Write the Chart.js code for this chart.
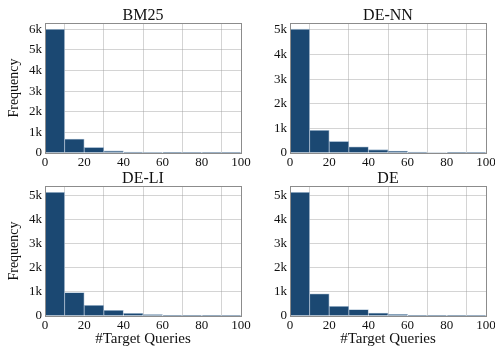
<!DOCTYPE html>
<html>
<head>
<meta charset="utf-8">
<script src="https://cdn.jsdelivr.net/npm/chart.js@4"></script>
<style>
  html, body { margin: 0; padding: 0; background: #fff; overflow: hidden; }
  body { width: 495px; height: 350px; position: relative; }
  .p { position: absolute; }
</style>
</head>
<body>
<div class="p" style="left:0px;top:0px;width:262px;height:175px"><canvas id="c0"></canvas></div>
<div class="p" style="left:247px;top:0px;width:260px;height:175px"><canvas id="c1"></canvas></div>
<div class="p" style="left:0px;top:163px;width:262px;height:187px"><canvas id="c2"></canvas></div>
<div class="p" style="left:247px;top:163px;width:260px;height:187px"><canvas id="c3"></canvas></div>
<script>
// Bin centres (bins of width 10 from 0 to 100)
const binCenters = [5, 15, 25, 35, 45, 55, 65, 75, 85, 95];
const xTicks = [0, 20, 40, 60, 80, 100];
const yTicksTop = [0, 1000, 2000, 3000, 4000, 5000, 6000];
const titles = ["BM25", "DE-NN", "DE-LI", "DE"];
const bm25 = [5990, 680, 270, 100, 50, 20, 12, 4, 2, 1];
const deNN = [5030, 920, 470, 255, 135, 80, 40, 20, 10, 3];
const deLI = [5130, 970, 440, 236, 112, 60, 30, 15, 5, 2];
const de   = [5130, 920, 400, 265, 125, 65, 30, 15, 10, 3];
const yMaxes = [6300, 5280, 5390, 5390];

const series = [bm25, deNN, deLI, de];
const FONT = "'Liberation Serif', 'Times New Roman', serif";

const frame = {
  id: 'frame',
  afterDraw(chart) {
    const a = chart.chartArea, ctx = chart.ctx;
    ctx.save();
    ctx.strokeStyle = '#8c8c8c';
    ctx.lineWidth = 1;
    ctx.strokeRect(Math.round(a.left) + 0.5, Math.round(a.top) + 0.5,
                   Math.round(a.right - a.left), Math.round(a.bottom - a.top));
    // panel title centred over the plot area
    const t = chart.options.plugins.frame.title;
    ctx.fillStyle = '#111';
    ctx.font = '16px ' + FONT;
    ctx.textAlign = 'center';
    ctx.textBaseline = 'alphabetic';
    ctx.fillText(t, (a.left + a.right) / 2, a.top - 3);
    ctx.restore();
  }
};

function make(i) {
  const left = (i % 2 === 0);
  const bottom = (i >= 2);
  const data = series[i];
  const ymax = yMaxes[i];
  new Chart(document.getElementById('c' + i), {
    type: 'bar',
    data: {
      datasets: [{
        data: binCenters.map((x, k) => ({ x: x, y: data[k] })),
        backgroundColor: '#1b4872',
        borderColor: 'rgba(150,175,200,0.8)',
        borderWidth: 0.8,
        barPercentage: 1,
        categoryPercentage: 1
      }]
    },
    options: {
      responsive: true,
      maintainAspectRatio: false,
      animation: false,
      layout: { padding: { left: 0, right: 21, top: 23, bottom: 0 } },
      plugins: {
        legend: { display: false },
        tooltip: { enabled: false },
        title: { display: false },
        frame: { title: titles[i] }
      },
      scales: {
        x: {
          type: 'linear',
          min: 0, max: 100,
          offset: false,
          z: 1,
          afterBuildTicks: s => { s.ticks = xTicks.map(v => ({ value: v })); },
          afterFit: s => { s.height = bottom ? 34 : 22; },
          grid: { color: 'rgba(160,160,160,0.45)', drawTicks: false, lineWidth: 1 },
          border: { display: false },
          ticks: { color: '#111', font: { family: FONT, size: 13 }, padding: 2, maxRotation: 0, autoSkip: false },
          title: {
            display: bottom,
            text: '#Target Queries',
            color: '#111',
            font: { family: FONT, size: 15 },
            padding: { top: 0, bottom: 2 }
          }
        },
        y: {
          type: 'linear',
          min: 0, max: ymax,
          z: 1,
          afterBuildTicks: s => { s.ticks = yTicksTop.filter(v => v <= ymax).map(v => ({ value: v })); },
          afterFit: s => { s.width = left ? 45 : 43; },
          grid: { color: 'rgba(160,160,160,0.45)', drawTicks: false, lineWidth: 1 },
          border: { display: false },
          ticks: {
            autoSkip: false,
            color: '#111',
            font: { family: FONT, size: 13 },
            padding: 3,
            callback: v => v === 0 ? '0' : (v / 1000) + 'k'
          },
          title: {
            display: left,
            text: 'Frequency',
            color: '#111',
            font: { family: FONT, size: 14 },
            padding: { top: 6, bottom: 0 }
          }
        }
      }
    },
    plugins: [frame]
  });
}
for (let i = 0; i < 4; i++) make(i);
</script>
</body>
</html>
